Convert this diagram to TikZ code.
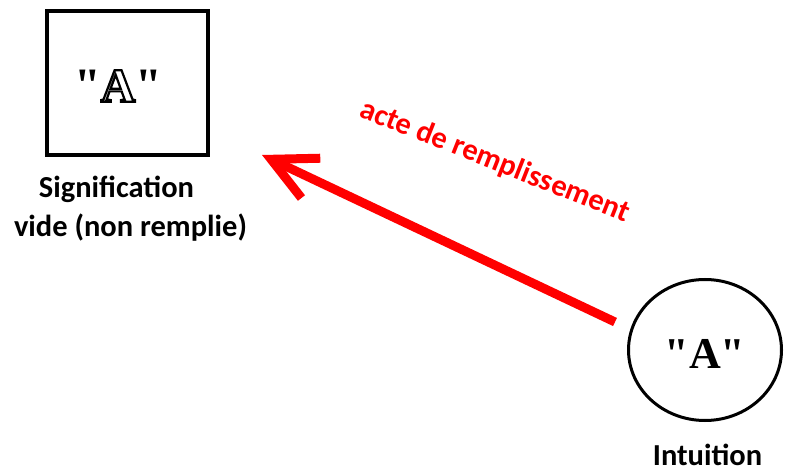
\documentclass[tikz,border=0pt]{standalone}
\usepackage{fontspec}
\setmainfont{Carlito}
\newfontfamily\serifA{Liberation Serif}
\newcommand{\outlinedA}[1]{\special{pdf:literal direct 1 Tr 2.2 w}#1\special{pdf:literal direct 0 Tr}}
\usetikzlibrary{arrows.meta,shapes.geometric}
\begin{document}
\begin{tikzpicture}[x=1pt,y=-1pt,
  lbl/.style={font=\fontsize{30.5}{36}\selectfont\bfseries, text=black, inner sep=0pt, anchor=base},
  redlbl/.style={font=\fontsize{30.5}{36}\selectfont\bfseries, text=red, inner sep=0pt, anchor=base},
  bigA/.style={font=\fontsize{48}{48}\selectfont\serifA\bfseries, inner sep=0pt},
  blobA/.style={font=\fontsize{44}{44}\selectfont\serifA\bfseries, inner sep=0pt},
  fillarrow/.style={draw=red, line width=9pt, -{Straight Barb[length=44pt, width=44pt, sharp]}}
]
\useasboundingbox (0,0) rectangle (785,470);
\fill[white] (0,0) rectangle (785,470);
% box
\node[draw, line width=4pt, minimum width=161pt, minimum height=144pt, inner sep=0pt] (sig) at (127.5,83) {};
\node[bigA] (sigA) at (118,86) {"\outlinedA{A}"};
\node[lbl] (sigl1) at (116.5,198) {Signification};
\node[lbl] (sigl2) at (130.5,237) {vide (non remplie)};
% circle
\node[draw, ellipse, line width=3pt, minimum width=153pt, minimum height=141pt, inner sep=0pt] (intu) at (705,350) {};
\node[blobA] (intuA) at (705,354) {"A"};
\node[lbl] (intul) at (707.5,465) {Intuition};
% arrow
\coordinate (tail) at (615,322);
\coordinate (head) at (262,155);
\draw[fillarrow] (tail) -- (head);
\node[redlbl, rotate=-21.6] (act) at (492,169.5) {acte de remplissement};
\end{tikzpicture}
\end{document}
